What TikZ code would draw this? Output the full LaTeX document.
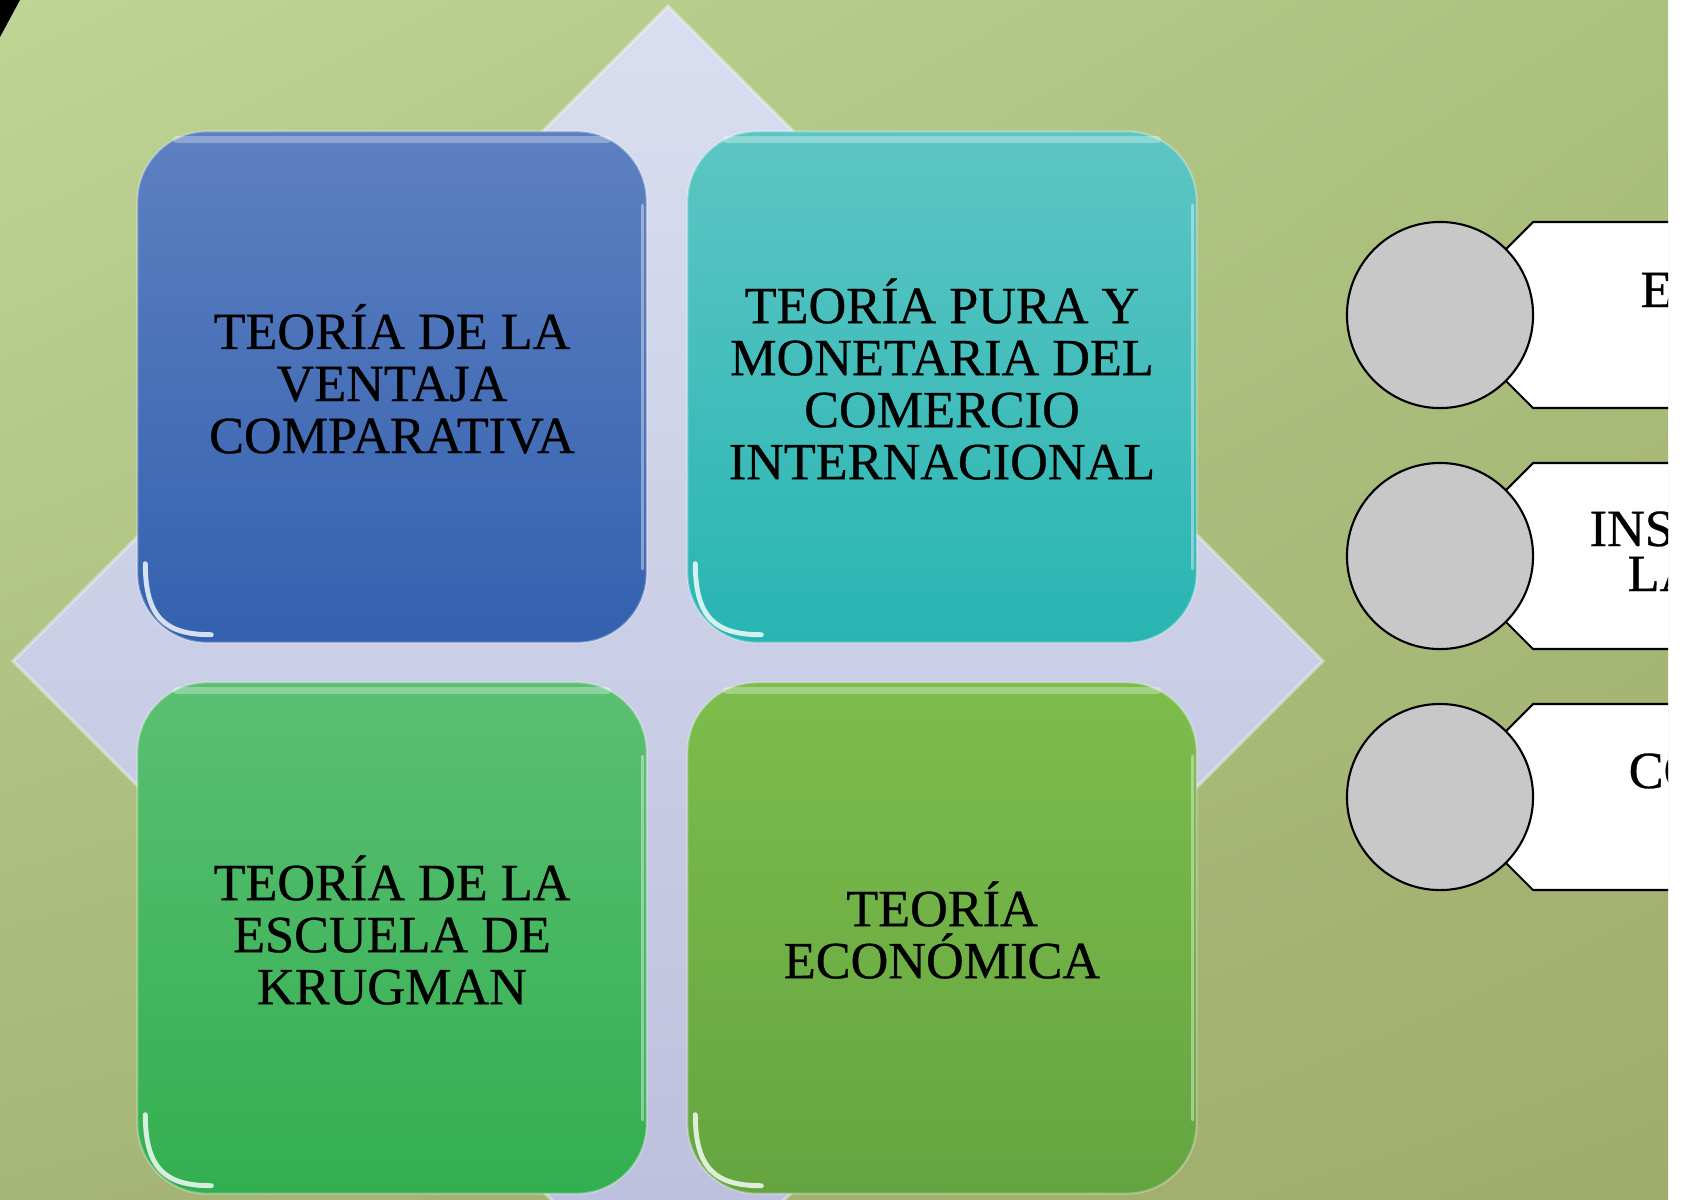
\documentclass[tikz,border=0pt]{standalone}
\usepackage{fontspec}
\setmainfont{Liberation Serif}
\newfontfamily\letracaja{Liberation Serif}[FakeBold=0.6]
\usepackage{tikz}
\usetikzlibrary{calc, positioning, shadings}
\usepackage{xcolor}
\definecolor{fondoA}{RGB}{190,213,150}
\definecolor{fondoB}{RGB}{172,193,126}
\definecolor{fondoC}{RGB}{166,182,118}
\definecolor{fondoD}{RGB}{160,172,108}
\definecolor{romboA}{RGB}{218,222,240}
\definecolor{romboB}{RGB}{186,190,220}
\definecolor{azulA}{RGB}{93,128,193}
\definecolor{azulB}{RGB}{51,97,175}
\definecolor{turquesaA}{RGB}{93,198,196}
\definecolor{turquesaB}{RGB}{40,181,178}
\definecolor{verdeA}{RGB}{91,191,114}
\definecolor{verdeB}{RGB}{50,175,80}
\definecolor{limaA}{RGB}{124,189,76}
\definecolor{limaB}{RGB}{101,165,64}
\definecolor{gris}{RGB}{200,200,200}
\tikzset{
    caja/.style={rounded corners=0.7cm, minimum width=5.09cm, minimum height=5.11cm, draw=white, draw opacity=0.3, line width=0.6pt},
    textocaja/.style={align=center, text=black, inner sep=0pt, yshift=0.08cm, font=\letracaja\fontsize{14.85}{14.8}\selectfont},
    brillo/.style={white, line cap=round},
    circulo/.style={circle, draw=black, fill=gris, line width=0.6pt, minimum size=1.86cm, inner sep=0pt},
    pestana/.style={draw=black, line width=0.6pt},
    textopestana/.style={anchor=base west, inner sep=0pt, font=\letracaja\fontsize{14.85}{12.8}\selectfont},
}
\newcommand{\cajateoria}[5]{%
  \node[caja, top color=#4A, bottom color=#4B] (#1) at (#2,#3) {};
  \node[textocaja] (#1-texto) at (#1.center) {#5};
  \draw[brillo, line width=2pt, opacity=0.3] ($(#1.north west)+(40,9)$) -- ($(#1.north east)+(-40,9)$);
  \draw[brillo, line width=1pt, opacity=0.4] ($(#1.north east)+(-5,75)$) -- ($(#1.south east)+(-5,-75)$);
  \draw[brillo, line width=1.4pt, opacity=0.8] ($(#1.south west)+(9,-80)$) .. controls ($(#1.south west)+(9,-25)$) and ($(#1.south west)+(30,-9)$) .. ($(#1.south west)+(75,-9)$);
}

\begin{document}
\begin{tikzpicture}[x=0.01cm, y=-0.01cm]
\fill[white] (0,0) rectangle (1685,1199);
\useasboundingbox (0,0) rectangle (1685,1199);
\begin{scope}
\clip (0,0) rectangle (1668,1199);
\shade[upper left=fondoA, upper right=fondoB, lower left=fondoC, lower right=fondoD] (0,0) rectangle (1668,1199);
\fill[black] (0,0) -- (20,0) -- (0,37) -- cycle;
\shade[top color=romboA, bottom color=romboB, draw=white, draw opacity=0.35, line width=1pt] (668,6) -- (1323,661) -- (668,1316) -- (13,661) -- cycle;

\cajateoria{ventaja}{392}{387}{azul}{TEORÍA DE LA\\VENTAJA\\COMPARATIVA}
\cajateoria{pura}{942}{387}{turquesa}{TEORÍA PURA Y\\MONETARIA DEL\\COMERCIO\\INTERNACIONAL}
\cajateoria{krugman}{392}{938}{verde}{TEORÍA DE LA\\ESCUELA DE\\KRUGMAN}
\cajateoria{economica}{942}{938}{lima}{TEORÍA\\ECONÓMICA}

\foreach \y/\n in {315/1,556/2,797/3}{
  \fill[white] (1440,\y) -- (1533,\y-93) -- (1700,\y-93) -- (1700,\y+93) -- (1533,\y+93) -- cycle;
  \draw[pestana] (1700,\y-93) -- (1533,\y-93) -- (1440,\y) -- (1533,\y+93) -- (1700,\y+93);
  \node[circulo] (circulo\n) at (1440,\y) {};
}
\node[textopestana] (textoE) at (1640,307) {E};
\node[textopestana] (textoINS) at (1589,546) {INS};
\node[textopestana] (textoLA) at (1627,591) {LA};
\node[textopestana] (textoCO) at (1628,788) {CO};
\end{scope}
\end{tikzpicture}
\end{document}
